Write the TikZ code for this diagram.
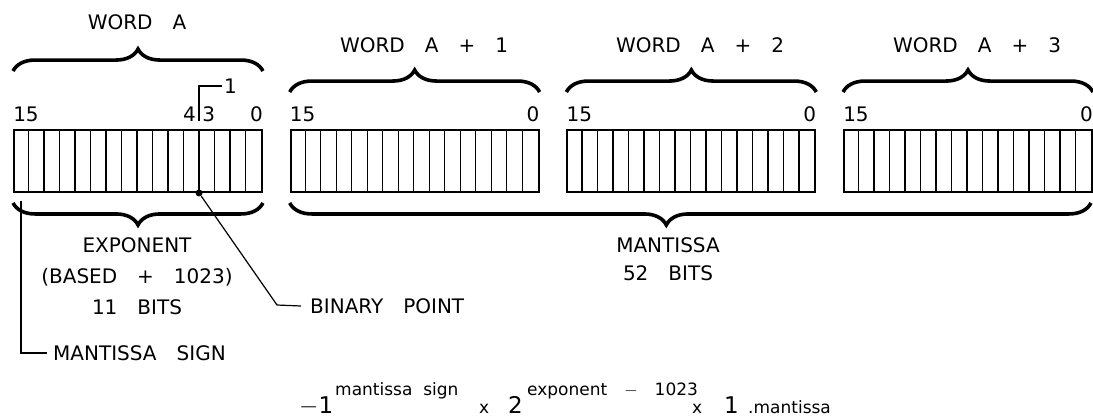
\documentclass[tikz,border=0pt]{standalone}
\usepackage{fontspec}
\setmainfont{DejaVu Sans}
\usetikzlibrary{positioning,calc,decorations.pathreplacing}

\tikzset{word/.style={draw,line width=1.9pt,minimum width=248pt,minimum height=62pt,inner sep=0pt}}
\tikzset{cell/.style={line width=1.4pt}}
\tikzset{brc/.style={decorate,decoration={brace,amplitude=22pt,#1},line width=3.6pt}}
\tikzset{lead/.style={line width=1.2pt}}

\begin{document}
\begin{tikzpicture}[
  x=1pt,y=-1pt,
  every node/.style={inner sep=0pt},
  lbl/.style={font=\fontsize{20}{31}\selectfont,align=center},
  big/.style={font=\fontsize{23}{26}\selectfont,anchor=base west},
  sml/.style={font=\fontsize{17}{20}\selectfont,anchor=base west}]

  \useasboundingbox (0,0) rectangle (1093,418);

  % the four words with their bits
  \foreach \k in {0,...,3}{
    \node[word] (w\k) at ({138+276.67*\k},161) {};
    \foreach \b in {1,...,15}
      \draw[cell] ($(w\k.north west)+(15.5*\b,0)$) -- ($(w\k.south west)+(15.5*\b,0)$);
    \node[lbl,anchor=base west] (hi\k) at ($(w\k.north west)+(0,-8)$) {15};
    \node[lbl,anchor=base east] (lo\k) at ($(w\k.north east)+(0,-8)$) {0};
  }
  \node[lbl,anchor=base east] (b4) at ($(w0.north west)+(183,-8)$) {4};
  \node[lbl,anchor=base west] (b3) at ($(w0.north west)+(189,-8)$) {3};

  % braces above the words
  \draw[brc] ($(w0.north west)+(0,-58)$) -- ($(w0.north east)+(0,-58)$);
  \foreach \k in {1,2,3}
    \draw[brc] ($(w\k.north west)+(0,-37)$) -- ($(w\k.north east)+(0,-37)$);

  \node[lbl] (wa0) at (137,22) {WORD\quad A};
  \node[lbl] (wa1) at (424,45) {WORD\quad A\quad +\quad 1};
  \node[lbl] (wa2) at (700,45) {WORD\quad A\quad +\quad 2};
  \node[lbl] (wa3) at (977,45) {WORD\quad A\quad +\quad 3};

  % marker for bit 1
  \node[lbl,anchor=west] (one) at (224,86) {1};
  \draw[lead] ($(w0.north west)+(186,-8)$) |- ([xshift=-2pt]one.west);

  % braces below the words
  \draw[brc] ($(w0.south east)+(0,10)$) -- ($(w0.south west)+(0,10)$);
  \draw[brc={aspect=0.53}] ($(w3.south east)+(-2,10)$) -- ($(w1.south west)+(0,10)$);

  \node[lbl] (expo) at (137,276) {EXPONENT\\(BASED\quad+\quad 1023)\\11\quad BITS};
  \node[lbl,font=\fontsize{20}{28}\selectfont] (mant) at (668,259) {MANTISSA\\52\quad BITS};

  % binary point
  \node[circle,fill,minimum size=7pt] (bp) at ($(w0.south west)+(186,0)$) {};
  \node[lbl,anchor=west] (binpt) at (310,306) {BINARY\quad POINT};
  \draw[lead] (bp) -- (277,305) -- ([xshift=-9pt]binpt.west);

  % mantissa sign
  \coordinate (ms) at ($(w0.south west)+(8,8)$);
  \node[lbl,anchor=west] (msgn) at (53,353) {MANTISSA\quad SIGN};
  \draw[lead] (ms) |- ([xshift=-6pt]msgn.west);

  % the formula
  \node[big] (f1) at (299,413) {$-$1};
  \node[sml] (f2) at (335,395) {mantissa\ \ sign};
  \node[sml] (f3) at (479,413) {x};
  \node[big] (f4) at (508,413) {2};
  \node[sml] (f5) at (527,395) {exponent\quad $-$\quad 1023};
  \node[sml] (f6) at (692,413) {x};
  \node[big] (f7) at (724,413) {1};
  \node[sml] (f8) at (748,413) {.mantissa};
\end{tikzpicture}
\end{document}
